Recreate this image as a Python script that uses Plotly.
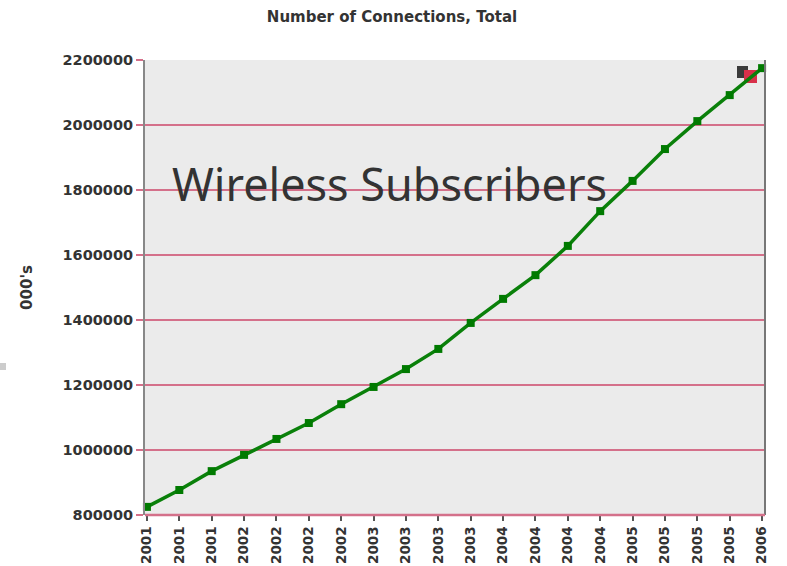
import plotly.graph_objects as go

# Quarterly wireless connections, thousands
periods = ["2001", "2001", "2001", "2002", "2002", "2002", "2002", "2003", "2003", "2003",
           "2003", "2004", "2004", "2004", "2004", "2005", "2005", "2005", "2005", "2006"]
connections = [825000, 877000, 935000, 985000, 1034000, 1083000, 1141000, 1194000, 1249000, 1311000,
               1391000, 1465000, 1538000, 1628000, 1735000, 1828000, 1926000, 2012000, 2092000, 2175000]
y_ticks = [800000, 1000000, 1200000, 1400000, 1600000, 1800000, 2000000, 2200000]

idx = list(range(len(periods)))

GRID = "#d4708a"
TEXT = "#333333"

fig = go.Figure()
fig.add_trace(go.Scatter(
    x=idx, y=connections, mode="lines+markers",
    line=dict(color="#0a800a", width=3.5),
    marker=dict(symbol="square", size=8, color="#007a00"),
    cliponaxis=False, showlegend=False,
))

fig.update_layout(
    width=787, height=566,
    margin=dict(l=145, r=22, t=60, b=51),
    paper_bgcolor="white", plot_bgcolor="#ebebeb",
    title=dict(text="<b>Number of Connections, Total</b>", x=392 / 787, xanchor="center",
               y=1 - 17 / 566, yanchor="middle",
               font=dict(family="DejaVu Sans", size=15, color=TEXT)),
    xaxis=dict(range=[-0.06, 19.09], tickvals=idx, ticktext=[f"<b>{p}</b>" for p in periods],
               tickangle=-90, tickfont=dict(family="DejaVu Sans", size=13.5, color=TEXT),
               showgrid=False, zeroline=False,
               ticks="outside", ticklen=5, tickcolor="#555555", tickwidth=1.5,
               showline=False, fixedrange=True, automargin=False),
    yaxis=dict(range=[800000, 2200000], tickvals=y_ticks,
               ticktext=[f"<b>{v}</b>" for v in y_ticks],
               tickfont=dict(family="DejaVu Sans", size=14.5, color=TEXT),
               showgrid=True, gridcolor=GRID, gridwidth=2, zeroline=False,
               ticks="outside", ticklen=7, tickcolor=GRID, tickwidth=2,
               showline=True, linecolor="#888888", linewidth=2, mirror=False,
               automargin=False,
               title=dict(text="<b>000's</b>", standoff=26,
                          font=dict(family="DejaVu Sans", size=15, color=TEXT)),
               fixedrange=True),
    shapes=[
        # right border of the plot area
        dict(type="line", xref="paper", yref="paper", x0=1, x1=1, y0=0, y1=1,
             line=dict(color="#777777", width=2)),
        # bottom edge line
        dict(type="line", xref="paper", yref="paper", x0=0, x1=1, y0=0, y1=0,
             line=dict(color=GRID, width=2.5)),
        # small legend swatches near the top-right corner
        dict(type="rect", xref="paper", yref="paper",
             x0=(737 - 145) / 620, x1=(748 - 145) / 620,
             y0=(515 - 78) / 455, y1=(515 - 66) / 455,
             fillcolor="#3a3a3a", line=dict(width=0), layer="below"),
        dict(type="rect", xref="paper", yref="paper",
             x0=(744 - 145) / 620, x1=(757 - 145) / 620,
             y0=(515 - 83) / 455, y1=(515 - 70) / 455,
             fillcolor="#d8304a", line=dict(width=0), layer="below"),
        # stray grey mark at the left edge
        dict(type="rect", xref="paper", yref="paper",
             x0=(0 - 145) / 620, x1=(6 - 145) / 620,
             y0=(515 - 370) / 455, y1=(515 - 363) / 455,
             fillcolor="#cccccc", line=dict(width=0)),
    ],
    annotations=[
        dict(text="Wireless Subscribers", xref="paper", yref="paper",
             x=(170 - 145) / 620, y=(515 - 183) / 455, xanchor="left", yanchor="middle",
             showarrow=False, font=dict(family="Noto Sans", size=45, color=TEXT)),
    ],
)

fig.write_html("out.html")
